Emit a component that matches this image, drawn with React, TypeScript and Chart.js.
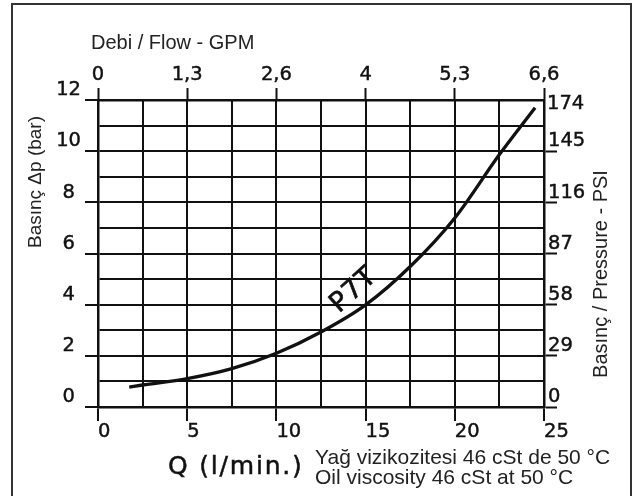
import React, { useEffect, useRef } from 'react';
import { Chart, registerables } from 'chart.js';

Chart.register(...registerables);

// ---- data ----
const FLOW_LPM = [1.75, 2.5, 5, 7.5, 10, 12.5, 15, 17.5, 20, 22.5, 24.5];
const PRESSURE_BAR = [0.78, 0.86, 1.11, 1.5, 2.1, 2.93, 3.99, 5.49, 7.39, 9.87, 11.7];
const SERIES_NAME = 'P7T';
const GPM_LABELS = ['0', '1,3', '2,6', '4', '5,3', '6,6'];
const PSI_LABELS = ['0', '29', '58', '87', '116', '145', '174'];
const TOP_TITLE = 'Debi / Flow - GPM';
const LEFT_TITLE = 'Basınç Δp (bar)';
const RIGHT_TITLE = 'Basınç / Pressure - PSI';
const X_TITLE = 'Q (l/min.)';
const NOTE_LINES = ['Yağ vizikozitesi 46 cSt de 50 °C', 'Oil viscosity 46 cSt at 50 °C'];

const INK = '#111';
const TICK_FONT = { family: 'DejaVu Sans', size: 19.5 };
const TICK_STROKE = 0.45;
const GRID_W = 2;
const BORDER_W = 2.5;

const textPlugin = {
  id: 'chartTexts',
  afterDraw(chart: any) {
    const ctx = chart.ctx as CanvasRenderingContext2D;
    const xs = chart.scales.x;
    const ys = chart.scales.y;
    const y1 = chart.scales.y1;
    ctx.save();
    // top title
    ctx.fillStyle = '#222';
    ctx.textAlign = 'left';
    ctx.textBaseline = 'middle';
    ctx.font = '20px "Liberation Sans"';
    ctx.fillText(TOP_TITLE, 91, 43);
    // left title
    ctx.save();
    ctx.translate(36, 182);
    ctx.rotate(-Math.PI / 2);
    ctx.textAlign = 'center';
    ctx.font = '19px "Liberation Sans"';
    ctx.fillText(LEFT_TITLE, 0, 0);
    ctx.restore();
    // right title
    ctx.save();
    ctx.translate(601.5, 274);
    ctx.rotate(-Math.PI / 2);
    ctx.textAlign = 'center';
    ctx.font = '20px "Liberation Sans"';
    ctx.fillText(RIGHT_TITLE, 0, 0);
    ctx.restore();
    // x title
    ctx.fillStyle = INK;
    ctx.strokeStyle = INK;
    ctx.lineWidth = 0.5;
    ctx.font = '25px "DejaVu Sans"';
    (ctx as any).letterSpacing = '1.8px';
    ctx.textBaseline = 'middle';
    ctx.fillText(X_TITLE, 168, 467);
    ctx.strokeText(X_TITLE, 168, 467);
    (ctx as any).letterSpacing = '0px';
    // note
    ctx.fillStyle = '#222';
    ctx.font = '21px "Liberation Sans"';
    ctx.textBaseline = 'alphabetic';
    ctx.fillText(NOTE_LINES[0], 315, 464);
    ctx.fillText(NOTE_LINES[1], 315, 484);
    // top right psi label (sits below the top line)
    ctx.fillStyle = INK;
    ctx.lineWidth = TICK_STROKE;
    ctx.font = `${TICK_FONT.size}px "${TICK_FONT.family}"`;
    ctx.textAlign = 'left';
    ctx.textBaseline = 'middle';
    const psiTop = PSI_LABELS[PSI_LABELS.length - 1];
    ctx.fillText(psiTop, y1.left + 3, y1.getPixelForValue(12) + 4);
    ctx.strokeText(psiTop, y1.left + 3, y1.getPixelForValue(12) + 4);
    // series label
    ctx.save();
    ctx.translate(xs.getPixelForValue(14.35), ys.getPixelForValue(4.55));
    ctx.rotate(-42 * Math.PI / 180);
    ctx.textAlign = 'center';
    ctx.textBaseline = 'middle';
    ctx.font = '27px "DejaVu Sans"';
    (ctx as any).letterSpacing = '1px';
    ctx.lineWidth = 0.6;
    ctx.fillText(SERIES_NAME, 0, 0);
    ctx.strokeText(SERIES_NAME, 0, 0);
    (ctx as any).letterSpacing = '0px';
    ctx.restore();
    ctx.restore();
  },
};

export default function App() {
  const ref = useRef<HTMLCanvasElement | null>(null);
  useEffect(() => {
    if (!ref.current) return;
    const points = FLOW_LPM.map((q, i) => ({ x: q, y: PRESSURE_BAR[i] }));
    const chart = new Chart(ref.current, {
      type: 'scatter',
      data: {
        datasets: [
          {
            label: SERIES_NAME,
            data: points,
            showLine: true,
            borderColor: INK,
            borderWidth: 3.3,
            pointRadius: 0,
            cubicInterpolationMode: 'monotone',
            xAxisID: 'x',
            yAxisID: 'y',
          } as any,
        ],
      },
      options: {
        responsive: false,
        animation: false,
        layout: { padding: 0 },
        plugins: { legend: { display: false }, tooltip: { enabled: false }, title: { display: false } },
        scales: {
          x: {
            type: 'linear',
            position: 'bottom',
            min: 0,
            max: 25,
            afterFit: (s: any) => { s.height = 496 - 407; },
            ticks: {
              stepSize: 2.5,
              autoSkip: false,
              maxRotation: 0,
              align: 'start',
              padding: -1,
              color: INK,
              textStrokeColor: INK,
              textStrokeWidth: TICK_STROKE,
              font: TICK_FONT,
              callback: (v: any) => (Number(v) % 5 === 0 ? String(v) : ''),
            },
            grid: {
              color: INK,
              lineWidth: GRID_W,
              tickLength: 14,
              tickWidth: GRID_W,
              tickColor: (c: any) => (c.tick && c.tick.value % 5 === 0 ? INK : 'rgba(0,0,0,0)'),
            },
            border: { display: true, color: INK, width: BORDER_W },
          },
          x2: {
            type: 'linear',
            position: 'top',
            min: 0,
            max: 25,
            afterFit: (s: any) => { s.height = 100; },
            ticks: {
              stepSize: 5,
              autoSkip: false,
              maxRotation: 0,
              padding: 1,
              color: INK,
              textStrokeColor: INK,
              textStrokeWidth: TICK_STROKE,
              font: TICK_FONT,
              callback: (_v: any, i: number) => GPM_LABELS[i],
            },
            grid: {
              drawOnChartArea: false,
              tickLength: 12,
              tickWidth: GRID_W,
              tickColor: INK,
              color: INK,
            },
            border: { display: true, color: INK, width: BORDER_W },
          },
          y: {
            type: 'linear',
            position: 'left',
            min: 0,
            max: 12,
            afterFit: (s: any) => { s.width = 98; },
            ticks: {
              stepSize: 1,
              autoSkip: false,
              align: 'end',
              crossAlign: 'center',
              padding: 4,
              color: INK,
              textStrokeColor: INK,
              textStrokeWidth: TICK_STROKE,
              font: TICK_FONT,
              callback: (v: any) => (Number(v) % 2 === 0 ? String(v) : ''),
            },
            grid: {
              color: INK,
              lineWidth: GRID_W,
              tickLength: 13,
              tickWidth: GRID_W,
              tickColor: (c: any) => (c.tick && c.tick.value % 2 === 0 ? INK : 'rgba(0,0,0,0)'),
            },
            border: { display: true, color: INK, width: BORDER_W },
          },
          y1: {
            type: 'linear',
            position: 'right',
            min: 0,
            max: 12,
            afterFit: (s: any) => { s.width = 634 - 544; },
            ticks: {
              stepSize: 1,
              autoSkip: false,
              align: 'end',
              crossAlign: 'near',
              padding: -9,
              color: INK,
              textStrokeColor: INK,
              textStrokeWidth: TICK_STROKE,
              font: TICK_FONT,
              callback: (v: any) => {
                const n = Number(v);
                return n % 2 === 0 && n < 12 ? PSI_LABELS[n / 2] : '';
              },
            },
            grid: {
              drawOnChartArea: false,
              color: INK,
              tickLength: 13,
              tickWidth: GRID_W,
              tickColor: (c: any) => (c.tick && c.tick.value % 2 === 0 && c.tick.value < 12 ? INK : 'rgba(0,0,0,0)'),
            },
            border: { display: true, color: INK, width: BORDER_W },
          },
        } as any,
      },
      plugins: [textPlugin],
    });
    return () => chart.destroy();
  }, []);

  return (
    <div style={{ position: 'fixed', left: 0, top: 0, width: 634, height: 496, overflow: 'hidden', background: '#fff' }}>
      <div
        style={{
          position: 'absolute',
          left: 11,
          top: 3,
          width: 621,
          height: 600,
          border: '2px solid #333',
          boxSizing: 'border-box',
        }}
      />
      <canvas ref={ref} width={634} height={496} style={{ position: 'absolute', left: 0, top: 0 }} />
    </div>
  );
}
